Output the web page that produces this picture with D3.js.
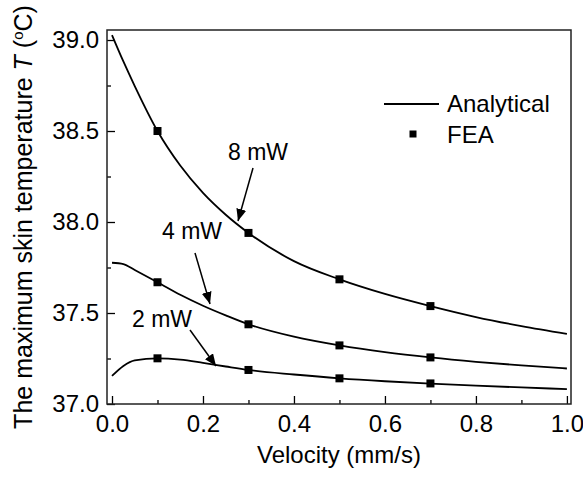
<!DOCTYPE html>
<html lang="en">
<head>
  <meta charset="UTF-8">
  <title>Maximum skin temperature vs velocity</title>
  <script src="https://d3js.org/d3.v7.min.js"></script>
  <style>
    body {
      margin: 0;
      background-color: #fff;
    }
    svg text {
      font-family: "Liberation Sans", Arial, sans-serif;
      fill: #000;
    }
  </style>
</head>
<body>
  <svg width="583" height="479"></svg>

  <script>
  // analytical curves
  const velocity = [0, 0.025, 0.05, 0.1, 0.15, 0.2, 0.25, 0.3, 0.4, 0.5, 0.6, 0.7, 0.8, 0.9, 1.0];
  const analytic8 = [39.027, 38.882, 38.747, 38.5, 38.31, 38.16, 38.04, 37.94, 37.785, 37.685, 37.605, 37.538, 37.478, 37.428, 37.385];
  const analytic4 = [37.776, 37.769, 37.736, 37.669, 37.6, 37.54, 37.487, 37.438, 37.37, 37.322, 37.285, 37.256, 37.232, 37.212, 37.195];
  const analytic2 = [37.154, 37.209, 37.24, 37.251, 37.244, 37.226, 37.206, 37.187, 37.162, 37.141, 37.125, 37.112, 37.101, 37.091, 37.082];

  // FEA points
  const feaVelocity = [0.1, 0.3, 0.5, 0.7];
  const fea8 = [38.5, 37.94, 37.685, 37.538];
  const fea4 = [37.669, 37.438, 37.322, 37.256];
  const fea2 = [37.251, 37.187, 37.141, 37.113];

  const xMajor = [0, 0.2, 0.4, 0.6, 0.8, 1.0];
  const xMinor = [0.1, 0.3, 0.5, 0.7, 0.9];
  const yMajor = [37.0, 37.5, 38.0, 38.5, 39.0];
  const yMinor = [37.25, 37.75, 38.25, 38.75];

  const svg = d3.select("svg");
  const plotLeft = 107, plotRight = 571, plotTop = 30, plotBottom = 404;

  const x = d3.scaleLinear().domain([-0.011, 1.009]).range([plotLeft, plotRight]);
  const y = d3.scaleLinear().domain([37, 39.055]).range([plotBottom, plotTop]);

  // ticks (inward)
  svg.append("g")
    .attr("transform", `translate(0,${plotBottom})`)
    .call(d3.axisBottom(x).tickValues(xMajor).tickFormat(d3.format(".1f"))
      .tickSizeInner(-8).tickSizeOuter(0).tickPadding(11));
  svg.append("g")
    .attr("transform", `translate(0,${plotBottom})`)
    .call(d3.axisBottom(x).tickValues(xMinor).tickFormat("")
      .tickSizeInner(-4).tickSizeOuter(0));

  svg.append("g")
    .attr("transform", `translate(${plotLeft},0)`)
    .call(d3.axisLeft(y).tickValues(yMajor).tickFormat(d3.format(".1f"))
      .tickSizeInner(-8).tickSizeOuter(0).tickPadding(8));
  svg.append("g")
    .attr("transform", `translate(${plotLeft},0)`)
    .call(d3.axisLeft(y).tickValues(yMinor).tickFormat("")
      .tickSizeInner(-4).tickSizeOuter(0));

  svg.selectAll(".domain").remove();
  svg.selectAll(".tick line").attr("stroke", "#000").attr("stroke-width", 1.3);
  svg.selectAll(".tick text")
    .attr("font-size", 24)
    .attr("font-family", "'Liberation Sans', Arial, sans-serif")
    .attr("fill", "#000");

  // frame
  svg.append("rect")
    .attr("x", plotLeft)
    .attr("y", plotTop)
    .attr("width", plotRight - plotLeft)
    .attr("height", plotBottom - plotTop)
    .attr("fill", "none")
    .attr("stroke", "#222")
    .attr("stroke-width", 1.5);

  const line = d3.line()
    .x(d => x(d[0]))
    .y(d => y(d[1]))
    .curve(d3.curveMonotoneX);

  [analytic8, analytic4, analytic2].forEach(series => {
    svg.append("path")
      .datum(velocity.map((v, i) => [v, series[i]]))
      .attr("d", line)
      .attr("fill", "none")
      .attr("stroke", "#000")
      .attr("stroke-width", 1.8);
  });

  const sq = 8;
  [fea8, fea4, fea2].forEach(series => {
    svg.append("g").selectAll("rect")
      .data(feaVelocity.map((v, i) => [v, series[i]]))
      .join("rect")
      .attr("x", d => x(d[0]) - sq / 2)
      .attr("y", d => y(d[1]) - sq / 2)
      .attr("width", sq)
      .attr("height", sq)
      .attr("fill", "#000");
  });

  // legend
  svg.append("line")
    .attr("x1", 384).attr("x2", 439)
    .attr("y1", 104).attr("y2", 104)
    .attr("stroke", "#000").attr("stroke-width", 1.8);
  svg.append("text").attr("x", 447).attr("y", 112)
    .attr("font-size", 24).text("Analytical");
  svg.append("rect")
    .attr("x", 413 - 3.5).attr("y", 134 - 3.5)
    .attr("width", 7).attr("height", 7).attr("fill", "#000");
  svg.append("text").attr("x", 447).attr("y", 143)
    .attr("font-size", 24).text("FEA");

  // annotations with arrows
  svg.append("defs").append("marker")
    .attr("id", "head")
    .attr("viewBox", "0 0 12 10")
    .attr("refX", 12).attr("refY", 5)
    .attr("markerWidth", 12).attr("markerHeight", 10)
    .attr("markerUnits", "userSpaceOnUse")
    .attr("orient", "auto")
    .append("path")
    .attr("d", "M0,0 L12,5 L0,10 Z")
    .attr("fill", "#000");

  const labels = [
    { text: "8 mW", tx: 228, ty: 160, x1: 253, y1: 168, x2: 238, y2: 221 },
    { text: "4 mW", tx: 162, ty: 239, x1: 195, y1: 253, x2: 210, y2: 304 },
    { text: "2 mW", tx: 132, ty: 327, x1: 190, y1: 330, x2: 216, y2: 366 }
  ];
  labels.forEach(l => {
    svg.append("text").attr("x", l.tx).attr("y", l.ty)
      .attr("font-size", 23).text(l.text);
    svg.append("line")
      .attr("x1", l.x1).attr("y1", l.y1)
      .attr("x2", l.x2).attr("y2", l.y2)
      .attr("stroke", "#000").attr("stroke-width", 1.5)
      .attr("marker-end", "url(#head)");
  });

  // axis titles
  svg.append("text")
    .attr("x", (plotLeft + plotRight) / 2)
    .attr("y", 463)
    .attr("text-anchor", "middle")
    .attr("font-size", 24)
    .text("Velocity (mm/s)");

  const yTitle = svg.append("text")
    .attr("transform", `translate(32,${(plotTop + plotBottom) / 2}) rotate(-90)`)
    .attr("text-anchor", "middle")
    .attr("font-size", 25);
  yTitle.append("tspan").text("The maximum skin temperature ");
  yTitle.append("tspan").attr("font-style", "italic").text("T");
  yTitle.append("tspan").text(" (");
  yTitle.append("tspan").attr("font-size", 15).attr("dy", -9).text("o");
  yTitle.append("tspan").attr("dy", 9).text("C)");
  </script>
</body>
</html>
